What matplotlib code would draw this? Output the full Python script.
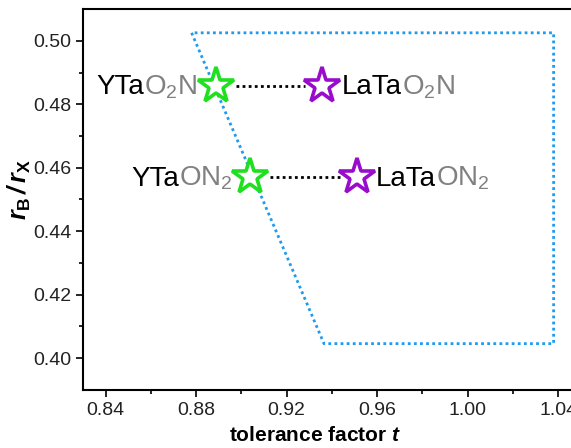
import matplotlib
matplotlib.use("Agg")
import matplotlib.pyplot as plt
from matplotlib.offsetbox import TextArea, HPacker, AnnotationBbox

plt.rcParams['font.family'] = 'Liberation Sans'
plt.rcParams['mathtext.fontset'] = 'custom'
plt.rcParams['mathtext.rm'] = 'Liberation Sans'
plt.rcParams['mathtext.it'] = 'Liberation Sans:italic'
plt.rcParams['mathtext.bf'] = 'Liberation Sans:bold'
plt.rcParams['mathtext.bfit'] = 'Liberation Sans:italic:bold'

# stability region (tolerance factor, rB/rX)
region_t = [0.878, 0.9365, 1.038, 1.038, 0.878]
region_r = [0.5025, 0.4046, 0.4046, 0.5025, 0.5025]

# compounds: Y-based (green) and La-based (purple)
y_t = [0.8886, 0.904]
y_r = [0.4858, 0.4571]
la_t = [0.9358, 0.951]
la_r = [0.4858, 0.4571]
y_names = [("YTa", r"O$_2$N"), ("YTa", r"ON$_2$")]
la_names = [("LaTa", r"O$_2$N"), ("LaTa", r"ON$_2$")]

xticks = [0.84, 0.88, 0.92, 0.96, 1.00, 1.04]
yticks = [0.40, 0.42, 0.44, 0.46, 0.48, 0.50]

fig = plt.figure(figsize=(5.71, 4.48), dpi=100)
ax = fig.add_axes([0.1454, 0.1295, 0.8717, 0.8504])

ax.plot(region_t, region_r, color='#1e9bf0', lw=2, ls=(0, (1, 1.2)))

gap = 0.0088
for i in range(len(y_t)):
    ax.plot([y_t[i] + gap, la_t[i] - gap * 0.85], [y_r[i], la_r[i]],
            color='black', lw=2, ls=(0, (1, 1.2)))

ax.plot(y_t, y_r, ls='none', marker='*', ms=27, mfc='white', mec='#1ee01e', mew=2.6)
ax.plot(la_t, la_r, ls='none', marker='*', ms=27, mfc='white', mec='#9a0ccc', mew=2.6)


def label(x, y, parts, right):
    boxes = [TextArea(parts[0], textprops=dict(color='black', fontsize=20)),
             TextArea(parts[1], textprops=dict(color='#808080', fontsize=20))]
    pack = HPacker(children=boxes, align='baseline', pad=0, sep=0)
    off = 14 if right else -13
    ab = AnnotationBbox(pack, (x, y), xybox=(off, -1), xycoords='data',
                        boxcoords='offset points', frameon=False,
                        box_alignment=(0 if right else 1, 0.5))
    ax.add_artist(ab)


for i in range(len(y_t)):
    label(y_t[i], y_r[i], y_names[i], False)
    label(la_t[i], la_r[i], la_names[i], True)

ax.set_xlim(0.83, 1.05)
ax.set_ylim(0.39, 0.51)
ax.set_xticks(xticks)
ax.set_xticklabels([f"{v:.2f}" for v in xticks])
ax.set_yticks(yticks)
ax.set_yticklabels([f"{v:.2f}" for v in yticks])
ax.set_xticks([0.86, 0.90, 0.94, 0.98, 1.02], minor=True)
ax.set_yticks([0.41, 0.43, 0.45, 0.47, 0.49], minor=True)
ax.tick_params(which='major', direction='out', length=5, width=1.2, labelsize=14,
               labelcolor='#222222')
ax.tick_params(which='minor', direction='out', length=3, width=1.2)
for s in ax.spines.values():
    s.set_linewidth(1.5)
ax.spines['right'].set_visible(False)

ax.set_xlabel(r"tolerance factor $\mathbfit{t}$", fontsize=15, fontweight='bold')
ax.xaxis.set_label_coords(0.466, -0.095)
ax.set_ylabel(r"$\mathbfit{r}_\mathbf{B}\,\mathbfit{/}\,\mathbfit{r}_\mathbf{X}$", fontsize=18)
ax.yaxis.set_label_coords(-0.1, 0.525)

fig.savefig("out.png", dpi=100)
